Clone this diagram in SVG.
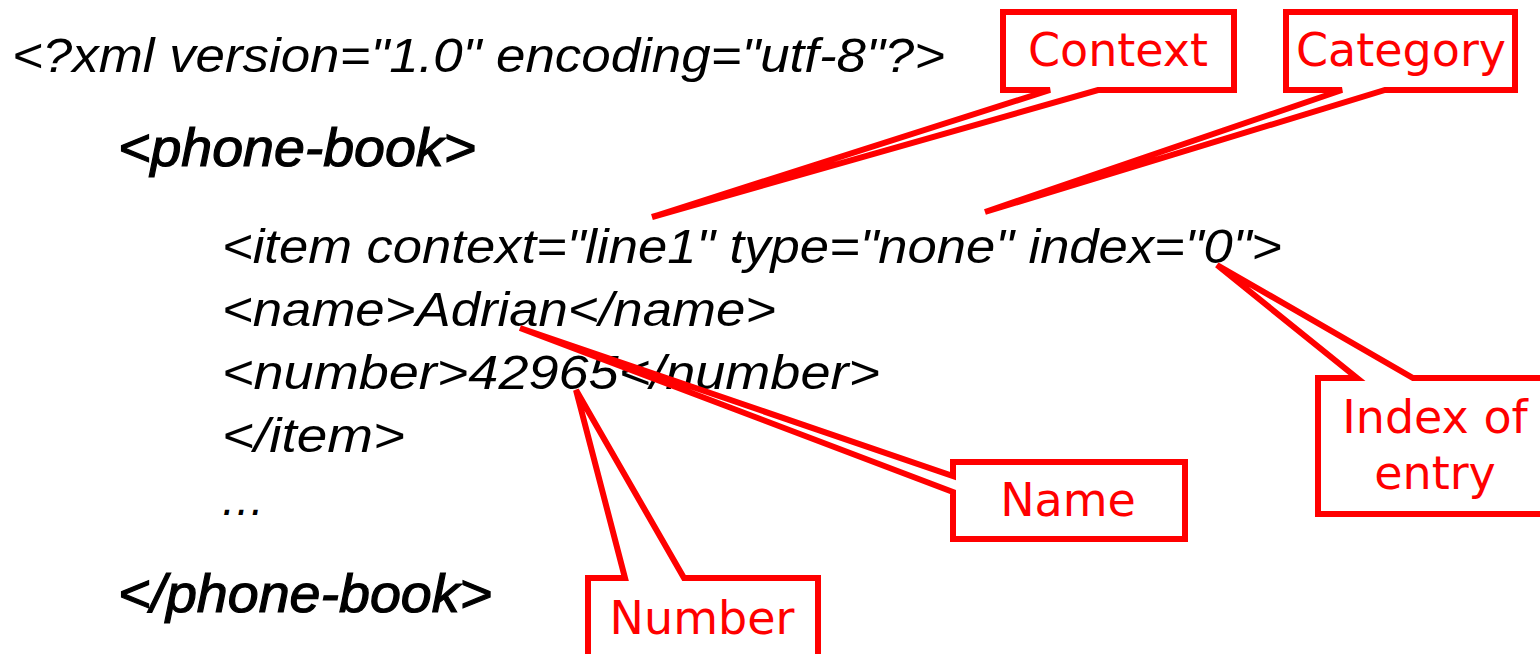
<svg xmlns="http://www.w3.org/2000/svg" width="1540" height="654" viewBox="0 0 1540 654">
<style>
.code{font-family:"Liberation Sans",Arial,sans-serif;font-style:italic;font-size:48px;fill:#000}
.b{font-size:54px;stroke:#000;stroke-width:1.2}
.co{fill:#fff;stroke:#f00;stroke-width:6;stroke-linejoin:miter}
.lbl{font-family:"DejaVu Sans",Verdana,sans-serif;font-size:46px;fill:#f00;text-anchor:middle}
</style>
<rect width="1540" height="654" fill="#fff"/>
<g id="code">
<text class="code" x="12" y="72" textLength="933" lengthAdjust="spacingAndGlyphs">&lt;?xml version="1.0" encoding="utf-8"?&gt;</text>
<text class="code b" x="118" y="166" textLength="358" lengthAdjust="spacingAndGlyphs">&lt;phone-book&gt;</text>
<text class="code" x="222" y="263" textLength="1060" lengthAdjust="spacingAndGlyphs">&lt;item context="line1" type="none" index="0"&gt;</text>
<text class="code" x="222" y="326" textLength="554" lengthAdjust="spacingAndGlyphs">&lt;name&gt;Adrian&lt;/name&gt;</text>
<text class="code" x="222" y="389" textLength="658" lengthAdjust="spacingAndGlyphs">&lt;number&gt;42965&lt;/number&gt;</text>
<text class="code" x="222" y="452" textLength="183" lengthAdjust="spacingAndGlyphs">&lt;/item&gt;</text>
<text class="code" x="220" y="515" textLength="45" lengthAdjust="spacingAndGlyphs">…</text>
<text class="code b" x="118" y="612" textLength="374" lengthAdjust="spacingAndGlyphs">&lt;/phone-book&gt;</text>
</g>
<g id="connectors"></g>
<g id="context">
<path class="co" d="M1003,12 H1234 V90 H1098 L652,217 L1050,90 H1003 Z"/>
<text class="lbl" x="1118" y="66">Context</text>
</g>
<g id="category">
<path class="co" d="M1286,12 H1515 V90 H1385 L985,212 L1342,90 H1286 Z"/>
<text class="lbl" x="1401" y="66">Category</text>
</g>
<g id="index">
<path class="co" d="M1318,378 H1357 L1217,265 L1413,378 H1545 V514 H1318 Z"/>
<text class="lbl" x="1435" y="433">Index of</text>
<text class="lbl" x="1435" y="489">entry</text>
</g>
<g id="name">
<path class="co" d="M953,462 H1185 V539 H953 V492 L520,328 L953,476 Z"/>
<text class="lbl" x="1068" y="516">Name</text>
</g>
<g id="number">
<path class="co" d="M588,578 H625 L576,390 L684,578 H818 V660 H588 Z"/>
<text class="lbl" x="702" y="634">Number</text>
</g>
</svg>
